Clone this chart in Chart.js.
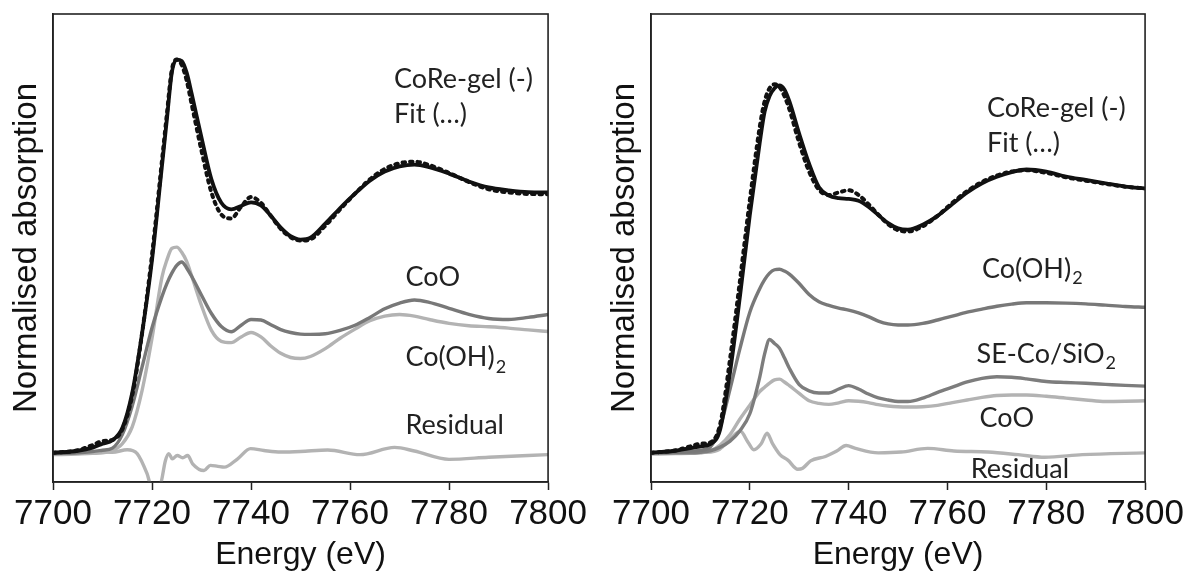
<!DOCTYPE html>
<html>
<head>
<meta charset="utf-8">
<script src="https://cdn.jsdelivr.net/npm/chart.js@4.4.1/dist/chart.umd.min.js"></script>
<style>
  html, body { margin: 0; padding: 0; background: #fff; overflow: hidden; }
  #wrap { position: relative; width: 1183px; height: 572px; overflow: hidden; }
  .panel { position: absolute; top: 0; height: 572px; }
  #left { left: 0; width: 590px; }
  #right { left: 594px; width: 593px; }
</style>
</head>
<body>
<div id="wrap">
  <div class="panel" id="left"><canvas id="chartLeft"></canvas></div>
  <div class="panel" id="right"><canvas id="chartRight"></canvas></div>
</div>
<script>
// Energy grid (eV) shared by the spectra
const energy = [7700, 7705, 7708, 7710, 7712, 7714, 7716, 7718, 7720,
    7722, 7723, 7724, 7725, 7726, 7727, 7728,
    7730, 7732, 7734, 7736, 7738, 7740, 7742, 7744, 7746, 7748, 7750, 7752,
    7755, 7758, 7761, 7764, 7767, 7770, 7773, 7776,
    7780, 7784, 7788, 7792, 7796, 7800];
const energyTicks = [7700, 7720, 7740, 7760, 7780, 7800];

// Left panel: CoRe-gel, fit and references (offset normalised absorption)
const gelLeft = [0, 0.008, 0.02, 0.035, 0.048, 0.095, 0.23, 0.46, 0.74,
    1.10, 1.28, 1.46, 1.51, 1.505, 1.46, 1.38,
    1.21, 1.05, 0.96, 0.935, 0.948, 0.962, 0.95, 0.91, 0.865, 0.832, 0.819, 0.826,
    0.88, 0.94, 0.995, 1.045, 1.08, 1.10, 1.107, 1.097,
    1.072, 1.042, 1.019, 1.008, 1.001, 1.0];
const fitLeft = [0, 0.01, 0.03, 0.045, 0.05, 0.09, 0.22, 0.46, 0.76,
    1.12, 1.30, 1.47, 1.51, 1.49, 1.43, 1.34,
    1.16, 1.0, 0.915, 0.90, 0.945, 0.982, 0.96, 0.91, 0.86, 0.828, 0.815, 0.82,
    0.872, 0.935, 0.995, 1.05, 1.09, 1.112, 1.118, 1.105,
    1.075, 1.04, 1.012, 1.0, 0.994, 0.993];
const cooLeft = [-0.003, 0, 0.005, 0.01, 0.018, 0.07, 0.18, 0.33, 0.48,
    0.6, 0.65, 0.69, 0.72, 0.733, 0.71, 0.678,
    0.605, 0.535, 0.485, 0.465, 0.49, 0.512, 0.51, 0.492, 0.473, 0.462, 0.456, 0.455,
    0.457, 0.47, 0.49, 0.52, 0.553, 0.575, 0.587, 0.578,
    0.555, 0.532, 0.516, 0.512, 0.52, 0.531];
const cohLeft = [-0.007, -0.005, -0.002, 0, 0.008, 0.035, 0.1, 0.24, 0.44,
    0.674, 0.74, 0.785, 0.79, 0.77, 0.735, 0.68,
    0.565, 0.47, 0.428, 0.423, 0.445, 0.462, 0.445, 0.41, 0.382, 0.366, 0.362, 0.37,
    0.4, 0.44, 0.475, 0.507, 0.525, 0.531, 0.525, 0.512,
    0.497, 0.488, 0.484, 0.479, 0.472, 0.466];
const residualEnergyLeft = [7700, 7705, 7710, 7712, 7715, 7717, 7719, 7720, 7721.7, 7722.7,
    7723.4, 7724.1, 7725.1, 7726.2, 7727.2, 7728.2, 7730.5, 7731.8, 7733.3, 7734.6,
    7737.3, 7739.9, 7742.6, 7746, 7750, 7755.5, 7762, 7769, 7773, 7780, 7788, 7800];
const residualLeft = [0, -0.002, 0.004, 0.002, 0.012, -0.003, -0.08, -0.135, -0.12, -0.03,
    -0.003, -0.023, -0.01, -0.019, -0.01, -0.042, -0.068, -0.048, -0.052, -0.055,
    -0.023, 0.016, 0.009, 0.003, 0.005, 0.011, -0.007, 0.021, 0.007, -0.025, -0.017, -0.007];

// Right panel
const gelRight = [0, 0.008, 0.018, 0.025, 0.033, 0.09, 0.31, 0.6, 0.913,
    1.19, 1.31, 1.37, 1.40, 1.411, 1.395, 1.35,
    1.225, 1.11, 1.02, 0.988, 0.978, 0.975, 0.968, 0.945, 0.913, 0.882, 0.862, 0.857,
    0.876, 0.91, 0.955, 1.0, 1.035, 1.06, 1.078, 1.088,
    1.08, 1.061, 1.048, 1.035, 1.022, 1.015];
const fitRight = [0, 0.01, 0.025, 0.035, 0.04, 0.11, 0.36, 0.66, 0.97,
    1.25, 1.35, 1.40, 1.415, 1.405, 1.37, 1.32,
    1.19, 1.08, 1.01, 0.99, 1.0, 1.008, 0.99, 0.955, 0.915, 0.878, 0.855, 0.85,
    0.87, 0.91, 0.96, 1.005, 1.04, 1.065, 1.08, 1.085,
    1.075, 1.058, 1.045, 1.033, 1.022, 1.015];
const cohRight = [0, 0.002, 0.006, 0.01, 0.022, 0.1, 0.245, 0.4, 0.54,
    0.63, 0.665, 0.69, 0.703, 0.705, 0.698, 0.686,
    0.65, 0.608, 0.58, 0.566, 0.556, 0.548, 0.537, 0.523, 0.506, 0.495, 0.491, 0.491,
    0.497, 0.51, 0.525, 0.54, 0.552, 0.563, 0.571, 0.576,
    0.576, 0.575, 0.572, 0.567, 0.562, 0.559];
const seRight = [0, 0, 0, 0.002, 0.008, 0.022, 0.045, 0.085, 0.15,
    0.29, 0.38, 0.435, 0.42, 0.402, 0.365, 0.325,
    0.262, 0.238, 0.23, 0.23, 0.245, 0.258, 0.245, 0.226, 0.211, 0.203, 0.197, 0.197,
    0.21, 0.232, 0.252, 0.272, 0.286, 0.292, 0.29, 0.284,
    0.274, 0.27, 0.267, 0.263, 0.259, 0.256];
const cooRight = [-0.005, -0.003, -0.002, 0, 0.008, 0.03, 0.07, 0.13, 0.183,
    0.235, 0.252, 0.268, 0.28, 0.283, 0.272, 0.258,
    0.228, 0.2, 0.19, 0.186, 0.192, 0.2, 0.198, 0.193, 0.185, 0.18, 0.177, 0.176,
    0.177, 0.182, 0.193, 0.203, 0.213, 0.22, 0.222, 0.222,
    0.217, 0.21, 0.203, 0.197, 0.198, 0.2];
const residualEnergyRight = [7700, 7706, 7711, 7713.9, 7716.2, 7718.1, 7719.6, 7720.8, 7722.3, 7723.5,
    7724.6, 7726.1, 7727.7, 7729.7, 7730.7, 7732.3, 7735.3, 7737.6, 7739.5, 7741.4,
    7746, 7750.6, 7756, 7761.3, 7768.2, 7774.3, 7779.7, 7787.3, 7800];
const residualRight = [0, 0, 0.002, 0.014, 0.056, 0.083, 0.042, 0.012, 0.035, 0.075,
    0.035, -0.007, -0.028, -0.063, -0.059, -0.031, -0.014, 0.007, 0.028, 0.017,
    0, 0.003, 0.017, 0.007, 0.003, -0.007, -0.017, -0.007, 0];

const colors = {
    black: '#111111',
    dark: '#787878',
    mid: '#7d7d7d',
    light: '#b3b3b3',
    text: '#222222'
};

const pts = (xs, ys) => xs.map((x, i) => ({ x: x, y: ys[i] }));

function series(data, color, width, dashed) {
    return {
        data: data,
        borderColor: color,
        borderWidth: width,
        borderDash: dashed ? [2.5, 5] : [],
        borderCapStyle: dashed ? 'round' : 'butt',
        pointRadius: 0,
        cubicInterpolationMode: 'monotone',
        fill: false
    };
}

// Box round the plot area
const framePlugin = {
    id: 'frame',
    afterDraw(chart) {
        const { ctx, chartArea: a } = chart;
        ctx.save();
        ctx.strokeStyle = '#222';
        ctx.lineWidth = 1.6;
        ctx.strokeRect(a.left, a.top, a.right - a.left, a.bottom - a.top);
        ctx.restore();
    }
};

// Curve labels, placed in data units
const labelPlugin = {
    id: 'curveLabels',
    afterDatasetsDraw(chart, args, opts) {
        const { ctx, scales: { x, y } } = chart;
        ctx.save();
        ctx.fillStyle = colors.text;
        ctx.textBaseline = 'middle';
        ctx.textAlign = 'left';
        (opts.items || []).forEach(item => {
            const px = x.getPixelForValue(item.x);
            const py = y.getPixelForValue(item.y);
            ctx.font = '27px Lato, "Open Sans", sans-serif';
            ctx.fillText(item.text, px, py);
            if (item.sub) {
                const w = ctx.measureText(item.text).width;
                ctx.font = '18px Lato, "Open Sans", sans-serif';
                ctx.fillText(item.sub, px + w + 1, py + 9);
            }
        });
        ctx.restore();
    }
};

function makeChart(id, datasets, labels, axisWidth) {
    return new Chart(document.getElementById(id), {
        type: 'line',
        data: { datasets: datasets },
        options: {
            responsive: true,
            maintainAspectRatio: false,
            animation: false,
            layout: { padding: { top: 14, right: 38, bottom: 0, left: 0 } },
            plugins: {
                legend: { display: false },
                tooltip: { enabled: false },
                curveLabels: { items: labels }
            },
            scales: {
                x: {
                    type: 'linear',
                    min: 7700,
                    max: 7800,
                    afterBuildTicks: scale => { scale.ticks = energyTicks.map(v => ({ value: v })); },
                    afterFit: scale => { scale.height = 90; },
                    grid: {
                        display: true,
                        drawOnChartArea: false,
                        drawTicks: true,
                        tickLength: 8,
                        tickColor: '#222',
                        tickWidth: 1.5
                    },
                    border: { display: true, color: '#222', width: 1.6 },
                    ticks: {
                        autoSkip: false,
                        maxRotation: 0,
                        padding: 3,
                        color: '#111',
                        font: { family: '"Liberation Sans", Arial, sans-serif', size: 35 },
                        callback: v => String(v)
                    },
                    title: {
                        display: true,
                        text: 'Energy (eV)',
                        color: '#111',
                        padding: { top: 0, bottom: -2 },
                        font: { family: '"Liberation Sans", Arial, sans-serif', size: 32 }
                    }
                },
                y: {
                    min: -0.112,
                    max: 1.685,
                    afterFit: scale => { scale.width = axisWidth; },
                    grid: { display: false },
                    border: { display: true, color: '#222', width: 1.6 },
                    ticks: { display: false },
                    title: {
                        display: true,
                        text: 'Normalised absorption',
                        color: '#111',
                        padding: { top: axisWidth - 46, bottom: 0 },
                        font: { family: '"Liberation Sans", Arial, sans-serif', size: 33 }
                    }
                }
            }
        },
        plugins: [framePlugin, labelPlugin]
    });
}

document.addEventListener('DOMContentLoaded', () => {
    makeChart('chartLeft', [
        series(pts(energy, fitLeft), colors.black, 4, true),
        series(pts(energy, gelLeft), colors.black, 3.8, false),
        series(pts(energy, cooLeft), colors.dark, 3.4, false),
        series(pts(energy, cohLeft), colors.light, 3.4, false),
        series(pts(residualEnergyLeft, residualLeft), colors.light, 3.4, false)
    ], [
        { text: 'CoRe-gel (-)', x: 7768.9, y: 1.433 },
        { text: 'Fit (…)', x: 7768.9, y: 1.298 },
        { text: 'CoO', x: 7771.2, y: 0.675 },
        { text: 'Co(OH)', sub: '2', x: 7771.2, y: 0.365 },
        { text: 'Residual', x: 7771.2, y: 0.105 }
    ], 53);

    makeChart('chartRight', [
        series(pts(energy, fitRight), colors.black, 4, true),
        series(pts(energy, gelRight), colors.black, 3.8, false),
        series(pts(energy, cohRight), colors.dark, 3.4, false),
        series(pts(energy, seRight), colors.mid, 3.4, false),
        series(pts(energy, cooRight), colors.light, 3.4, false),
        series(pts(residualEnergyRight, residualRight), colors.light, 3.4, false)
    ], [
        { text: 'CoRe-gel (-)', x: 7768.0, y: 1.324 },
        { text: 'Fit (…)', x: 7768.0, y: 1.19 },
        { text: 'Co(OH)', sub: '2', x: 7767.0, y: 0.705 },
        { text: 'SE-Co/SiO', sub: '2', x: 7765.9, y: 0.38 },
        { text: 'CoO', x: 7766.5, y: 0.134 },
        { text: 'Residual', x: 7764.7, y: -0.064 }
    ], 57);
});
</script>
</body>
</html>
